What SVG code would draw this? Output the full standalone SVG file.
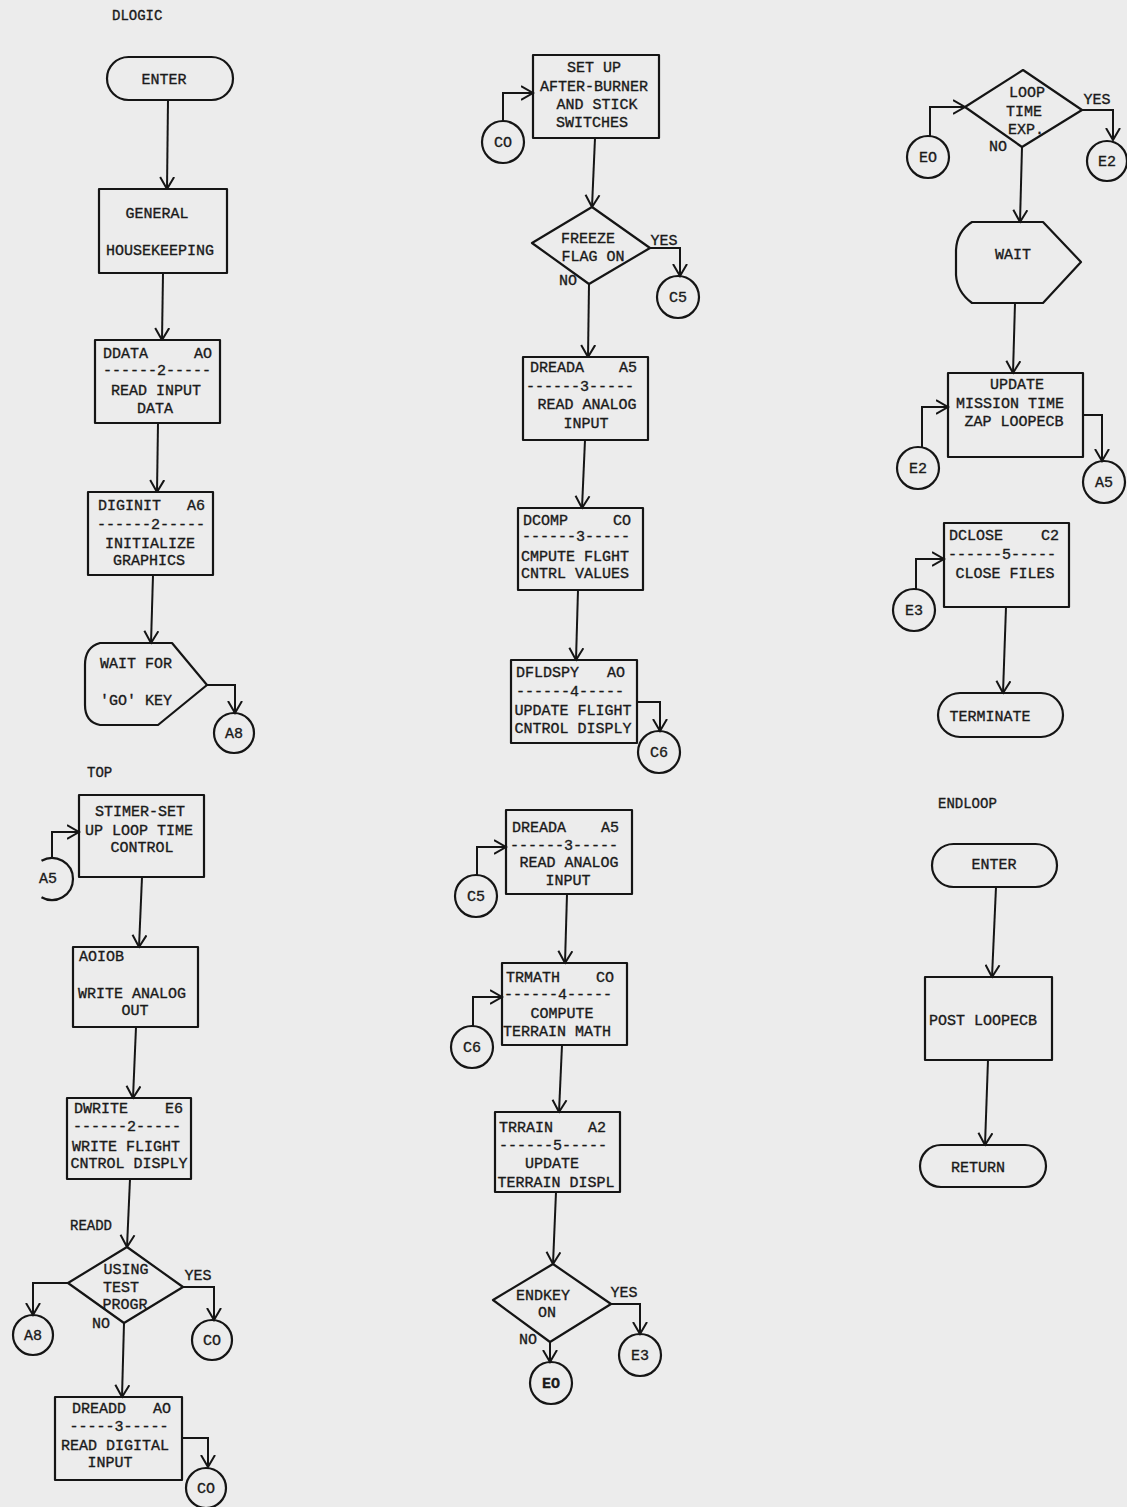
<svg xmlns="http://www.w3.org/2000/svg" width="1127" height="1507" viewBox="0 0 1127 1507">
<defs>
<style>
.s{fill:none;stroke:#151515;stroke-width:2.2;stroke-linejoin:round}
.c{fill:none;stroke:#151515;stroke-width:2}
.t{font-family:"Liberation Mono","Courier New",monospace;font-size:15px;fill:#1a1a1a;stroke:#1a1a1a;stroke-width:0.35}
.m{text-anchor:middle}
.e{text-anchor:end}
.l{font-size:14px}
</style>
<marker id="ah" markerUnits="userSpaceOnUse" markerWidth="14" markerHeight="16" viewBox="0 0 13 16" refX="12" refY="8" orient="auto">
<path d="M0,1 L12,8 L0,15" fill="none" stroke="#151515" stroke-width="2"/>
</marker>
</defs>
<rect x="0" y="0" width="1127" height="1507" fill="#ececec"/>

<g id="labels">
<text class="t l" x="112" y="20">DLOGIC</text>
<text class="t l" x="87" y="777">TOP</text>
<text class="t l" x="70" y="1230">READD</text>
<text class="t l" x="938" y="808">ENDLOOP</text>
</g>

<g id="connectors">
<path class="c" d="M168,100 L167,189" marker-end="url(#ah)"/>
<path class="c" d="M163,273 L162,340" marker-end="url(#ah)"/>
<path class="c" d="M158,423 L157,492" marker-end="url(#ah)"/>
<path class="c" d="M153,575 L151,643" marker-end="url(#ah)"/>
<path class="c" d="M207,685 L235,685 L235,713" marker-end="url(#ah)"/>
<path class="c" d="M52,858 L52,832 L79,832" marker-end="url(#ah)"/>
<path class="c" d="M142,877 L139,947" marker-end="url(#ah)"/>
<path class="c" d="M136,1027 L133,1098" marker-end="url(#ah)"/>
<path class="c" d="M130,1179 L127,1247" marker-end="url(#ah)"/>
<path class="c" d="M68,1283 L33,1283 L33,1315" marker-end="url(#ah)"/>
<path class="c" d="M183,1287 L214,1287 L214,1320" marker-end="url(#ah)"/>
<path class="c" d="M124,1323 L122,1397" marker-end="url(#ah)"/>
<path class="c" d="M182,1438 L208,1438 L208,1467" marker-end="url(#ah)"/>
<path class="c" d="M503,121 L503,93 L533,93" marker-end="url(#ah)"/>
<path class="c" d="M595,138 L592,207" marker-end="url(#ah)"/>
<path class="c" d="M650,248 L680,248 L680,276" marker-end="url(#ah)"/>
<path class="c" d="M589,284 L588,357" marker-end="url(#ah)"/>
<path class="c" d="M585,440 L582,508" marker-end="url(#ah)"/>
<path class="c" d="M578,590 L576,660" marker-end="url(#ah)"/>
<path class="c" d="M637,702 L660,702 L660,731" marker-end="url(#ah)"/>
<path class="c" d="M477,875 L477,847 L506,847" marker-end="url(#ah)"/>
<path class="c" d="M567,894 L565,963" marker-end="url(#ah)"/>
<path class="c" d="M473,1026 L473,997 L502,997" marker-end="url(#ah)"/>
<path class="c" d="M562,1045 L559,1112" marker-end="url(#ah)"/>
<path class="c" d="M556,1192 L553,1264" marker-end="url(#ah)"/>
<path class="c" d="M611,1304 L640,1304 L640,1334" marker-end="url(#ah)"/>
<path class="c" d="M550,1342 L550,1362" marker-end="url(#ah)"/>
<path class="c" d="M930,136 L930,107 L965,107" marker-end="url(#ah)"/>
<path class="c" d="M1082,110 L1113,110 L1113,140" marker-end="url(#ah)"/>
<path class="c" d="M1022,147 L1020,222" marker-end="url(#ah)"/>
<path class="c" d="M1015,303 L1013,373" marker-end="url(#ah)"/>
<path class="c" d="M922,447 L922,407 L948,407" marker-end="url(#ah)"/>
<path class="c" d="M1083,415 L1102,415 L1102,461" marker-end="url(#ah)"/>
<path class="c" d="M916,589 L916,559 L944,559" marker-end="url(#ah)"/>
<path class="c" d="M1006,607 L1003,693" marker-end="url(#ah)"/>
<path class="c" d="M996,887 L992,977" marker-end="url(#ah)"/>
<path class="c" d="M988,1060 L985,1145" marker-end="url(#ah)"/>
</g>

<!-- Left column: DLOGIC -->
<g id="enter1">
<rect class="s" x="107" y="57" width="126" height="43" rx="21.5"/>
<text class="t m" x="164" y="84">ENTER</text>
</g>
<g id="housekeeping">
<rect class="s" x="99" y="189" width="128" height="84"/>
<text class="t m" x="157" y="218">GENERAL</text>
<text class="t m" x="160" y="255">HOUSEKEEPING</text>
</g>
<g id="ddata">
<rect class="s" x="95" y="340" width="125" height="83"/>
<text class="t" x="103" y="358">DDATA</text>
<text class="t e" x="212" y="358">AO</text>
<text class="t m" x="157" y="375">------2-----</text>
<text class="t m" x="156" y="395">READ INPUT</text>
<text class="t m" x="155" y="413">DATA</text>
</g>
<g id="diginit">
<rect class="s" x="88" y="492" width="125" height="83"/>
<text class="t" x="98" y="510">DIGINIT</text>
<text class="t e" x="205" y="510">A6</text>
<text class="t m" x="151" y="529">------2-----</text>
<text class="t m" x="150" y="548">INITIALIZE</text>
<text class="t m" x="149" y="565">GRAPHICS</text>
</g>
<g id="waitgo">
<path class="s" d="M100,643 L172,643 L207,685 L158,725 L100,725 Q85,722 85,705 L85,665 Q85,647 100,643 Z"/>
<text class="t" x="100" y="668">WAIT FOR</text>
<text class="t" x="100" y="705">'GO' KEY</text>
</g>
<g id="a8-top">
<circle class="s" cx="234" cy="733" r="20"/>
<text class="t m" x="234" y="738">A8</text>
</g>

<!-- Left column: TOP -->
<g id="a5-in">
<path class="s" d="M41.5,860.8 A21,21 0 1 1 41.5,897.2"/>
<text class="t m" x="48" y="883">A5</text>
</g>
<g id="stimer">
<rect class="s" x="79" y="795" width="125" height="82"/>
<text class="t m" x="140" y="816">STIMER-SET</text>
<text class="t m" x="139" y="835">UP LOOP TIME</text>
<text class="t m" x="142" y="852">CONTROL</text>
</g>
<g id="aoiob">
<rect class="s" x="73" y="947" width="125" height="80"/>
<text class="t" x="79" y="961">AOIOB</text>
<text class="t m" x="132" y="998">WRITE ANALOG</text>
<text class="t m" x="135" y="1015">OUT</text>
</g>
<g id="dwrite">
<rect class="s" x="67" y="1098" width="124" height="81"/>
<text class="t" x="74" y="1113">DWRITE</text>
<text class="t e" x="183" y="1113">E6</text>
<text class="t m" x="127" y="1131">------2-----</text>
<text class="t m" x="126" y="1151">WRITE FLIGHT</text>
<text class="t m" x="129" y="1168">CNTROL DISPLY</text>
</g>
<g id="using-test">
<polygon class="s" points="127,1247 183,1287 124,1323 68,1283"/>
<text class="t m" x="126" y="1274">USING</text>
<text class="t m" x="121" y="1292">TEST</text>
<text class="t m" x="125" y="1309">PROGR</text>
<text class="t m" x="198" y="1280">YES</text>
<text class="t m" x="101" y="1328">NO</text>
</g>
<g id="a8-left">
<circle class="s" cx="33" cy="1335" r="20"/>
<text class="t m" x="33" y="1340">A8</text>
</g>
<g id="co-yes">
<circle class="s" cx="212" cy="1340" r="20"/>
<text class="t m" x="212" y="1345">CO</text>
</g>
<g id="dreadd">
<rect class="s" x="55" y="1397" width="127" height="83"/>
<text class="t" x="72" y="1413">DREADD</text>
<text class="t e" x="171" y="1413">AO</text>
<text class="t m" x="119" y="1431">-----3-----</text>
<text class="t m" x="115" y="1450">READ DIGITAL</text>
<text class="t m" x="110" y="1467">INPUT</text>
</g>
<g id="co-bottom">
<circle class="s" cx="206" cy="1488" r="20"/>
<text class="t m" x="206" y="1493">CO</text>
</g>

<!-- Middle column -->
<g id="co-in">
<circle class="s" cx="503" cy="142" r="21"/>
<text class="t m" x="503" y="147">CO</text>
</g>
<g id="setup">
<rect class="s" x="533" y="55" width="126" height="83"/>
<text class="t m" x="594" y="72">SET UP</text>
<text class="t m" x="594" y="91">AFTER-BURNER</text>
<text class="t m" x="597" y="109">AND STICK</text>
<text class="t m" x="592" y="127">SWITCHES</text>
</g>
<g id="freeze">
<polygon class="s" points="592,207 650,248 589,284 532,243"/>
<text class="t m" x="588" y="243">FREEZE</text>
<text class="t m" x="593" y="261">FLAG ON</text>
<text class="t m" x="664" y="245">YES</text>
<text class="t m" x="568" y="285">NO</text>
</g>
<g id="c5-out">
<circle class="s" cx="678" cy="297" r="21"/>
<text class="t m" x="678" y="302">C5</text>
</g>
<g id="dreada1">
<rect class="s" x="523" y="357" width="125" height="83"/>
<text class="t" x="530" y="372">DREADA</text>
<text class="t e" x="637" y="372">A5</text>
<text class="t m" x="580" y="391">------3-----</text>
<text class="t m" x="587" y="409">READ ANALOG</text>
<text class="t m" x="586" y="428">INPUT</text>
</g>
<g id="dcomp">
<rect class="s" x="518" y="508" width="125" height="82"/>
<text class="t" x="523" y="525">DCOMP</text>
<text class="t e" x="631" y="525">CO</text>
<text class="t m" x="576" y="541">------3-----</text>
<text class="t m" x="575" y="561">CMPUTE FLGHT</text>
<text class="t m" x="575" y="578">CNTRL VALUES</text>
</g>
<g id="dfldspy">
<rect class="s" x="511" y="660" width="126" height="83"/>
<text class="t" x="516" y="677">DFLDSPY</text>
<text class="t e" x="625" y="677">AO</text>
<text class="t m" x="570" y="696">------4-----</text>
<text class="t m" x="573" y="715">UPDATE FLIGHT</text>
<text class="t m" x="573" y="733">CNTROL DISPLY</text>
</g>
<g id="c6-out">
<circle class="s" cx="659" cy="752" r="21"/>
<text class="t m" x="659" y="757">C6</text>
</g>
<g id="c5-in">
<circle class="s" cx="476" cy="896" r="21"/>
<text class="t m" x="476" y="901">C5</text>
</g>
<g id="dreada2">
<rect class="s" x="506" y="810" width="126" height="84"/>
<text class="t" x="512" y="832">DREADA</text>
<text class="t e" x="619" y="832">A5</text>
<text class="t m" x="564" y="850">------3-----</text>
<text class="t m" x="569" y="867">READ ANALOG</text>
<text class="t m" x="568" y="885">INPUT</text>
</g>
<g id="c6-in">
<circle class="s" cx="472" cy="1047" r="21"/>
<text class="t m" x="472" y="1052">C6</text>
</g>
<g id="trmath">
<rect class="s" x="502" y="963" width="125" height="82"/>
<text class="t" x="506" y="982">TRMATH</text>
<text class="t e" x="614" y="982">CO</text>
<text class="t m" x="558" y="999">------4-----</text>
<text class="t m" x="562" y="1018">COMPUTE</text>
<text class="t m" x="557" y="1036">TERRAIN MATH</text>
</g>
<g id="trrain">
<rect class="s" x="495" y="1112" width="125" height="80"/>
<text class="t" x="499" y="1132">TRRAIN</text>
<text class="t e" x="606" y="1132">A2</text>
<text class="t m" x="553" y="1150">------5-----</text>
<text class="t m" x="552" y="1168">UPDATE</text>
<text class="t m" x="556" y="1187">TERRAIN DISPL</text>
</g>
<g id="endkey">
<polygon class="s" points="553,1264 611,1304 550,1342 493,1300"/>
<text class="t m" x="543" y="1300">ENDKEY</text>
<text class="t m" x="547" y="1317">ON</text>
<text class="t m" x="624" y="1297">YES</text>
<text class="t m" x="528" y="1344">NO</text>
</g>
<g id="e3-out">
<circle class="s" cx="640" cy="1355" r="21"/>
<text class="t m" x="640" y="1360">E3</text>
</g>
<g id="e0-out">
<circle class="s" cx="551" cy="1383" r="21"/>
<text class="t m" x="551" y="1388" font-weight="bold">EO</text>
</g>

<!-- Right column -->
<g id="e0-in">
<circle class="s" cx="928" cy="157" r="21"/>
<text class="t m" x="928" y="162">EO</text>
</g>
<g id="looptime">
<polygon class="s" points="1023,70 1082,110 1022,147 965,107"/>
<text class="t m" x="1027" y="97">LOOP</text>
<text class="t m" x="1024" y="116">TIME</text>
<text class="t m" x="1026" y="134">EXP.</text>
<text class="t m" x="1097" y="104">YES</text>
<text class="t m" x="998" y="151">NO</text>
</g>
<g id="e2-out">
<circle class="s" cx="1107" cy="161" r="20"/>
<text class="t m" x="1107" y="166">E2</text>
</g>
<g id="wait">
<path class="s" d="M972,222 L1043,222 L1081,262 L1043,303 L972,303 Q957,292 956,275 L956,250 Q957,231 972,222 Z"/>
<text class="t m" x="1013" y="259">WAIT</text>
</g>
<g id="update-mission">
<rect class="s" x="948" y="373" width="135" height="84"/>
<text class="t m" x="1017" y="389">UPDATE</text>
<text class="t m" x="1010" y="408">MISSION TIME</text>
<text class="t m" x="1014" y="426">ZAP LOOPECB</text>
</g>
<g id="e2-in">
<circle class="s" cx="918" cy="468" r="21"/>
<text class="t m" x="918" y="473">E2</text>
</g>
<g id="a5-out">
<circle class="s" cx="1104" cy="482" r="21"/>
<text class="t m" x="1104" y="487">A5</text>
</g>
<g id="dclose">
<rect class="s" x="944" y="523" width="125" height="84"/>
<text class="t" x="949" y="540">DCLOSE</text>
<text class="t e" x="1059" y="540">C2</text>
<text class="t m" x="1002" y="559">------5-----</text>
<text class="t m" x="1005" y="578">CLOSE FILES</text>
</g>
<g id="e3-in">
<circle class="s" cx="914" cy="610" r="21"/>
<text class="t m" x="914" y="615">E3</text>
</g>
<g id="terminate">
<rect class="s" x="938" y="693" width="125" height="44" rx="22"/>
<text class="t m" x="990" y="721">TERMINATE</text>
</g>
<g id="enter2">
<rect class="s" x="932" y="844" width="125" height="43" rx="21.5"/>
<text class="t m" x="994" y="869">ENTER</text>
</g>
<g id="post-loopecb">
<rect class="s" x="925" y="977" width="127" height="83"/>
<text class="t m" x="983" y="1025">POST LOOPECB</text>
</g>
<g id="return">
<rect class="s" x="920" y="1145" width="126" height="42" rx="21"/>
<text class="t m" x="978" y="1172">RETURN</text>
</g>
</svg>
